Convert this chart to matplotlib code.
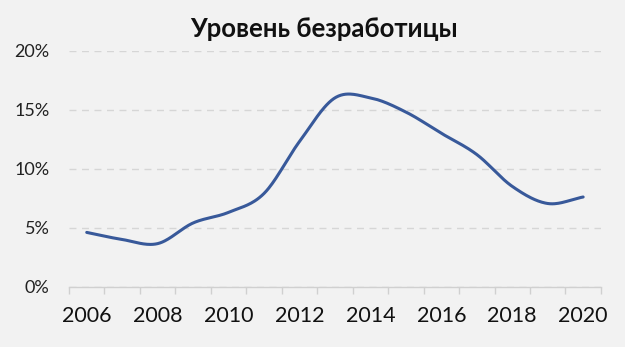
import numpy as np
import matplotlib.pyplot as plt
from matplotlib.ticker import FixedLocator, PercentFormatter

years = [2006, 2007, 2008, 2009, 2010, 2011, 2012, 2013, 2014, 2015, 2016, 2017, 2018, 2019, 2020]
unemployment = [4.6, 4.0, 3.65, 5.4, 6.3, 7.9, 12.3, 16.0, 16.0, 14.8, 13.0, 11.2, 8.5, 7.05, 7.6]
tick_years = [2006, 2008, 2010, 2012, 2014, 2016, 2018, 2020]
title = 'Уровень безработицы'


def smooth(x, y, n=30):
    # Catmull-Rom curve through the points, like Excel's smoothed line
    x = np.asarray(x, float)
    y = np.asarray(y, float)
    px = np.concatenate([[2 * x[0] - x[1]], x, [2 * x[-1] - x[-2]]])
    py = np.concatenate([[2 * y[0] - y[1]], y, [2 * y[-1] - y[-2]]])
    xs, ys = [], []
    t = np.linspace(0, 1, n, endpoint=False)
    for i in range(1, len(px) - 2):
        for p, out in ((px, xs), (py, ys)):
            p0, p1, p2, p3 = p[i - 1], p[i], p[i + 1], p[i + 2]
            out.extend(0.5 * (2 * p1 + (-p0 + p2) * t
                              + (2 * p0 - 5 * p1 + 4 * p2 - p3) * t ** 2
                              + (-p0 + 3 * p1 - 3 * p2 + p3) * t ** 3))
    xs.append(x[-1])
    ys.append(y[-1])
    return np.array(xs), np.array(ys)


plt.rcParams['font.family'] = ['Lato', 'DejaVu Sans']
bg = '#f2f2f2'

fig = plt.figure(figsize=(6.25, 3.47), dpi=100, facecolor=bg)
ax = fig.add_axes([0.1104, 0.1738, 0.851, 0.6802], facecolor=bg)

sx, sy = smooth(years, unemployment)
ax.plot(sx, sy, color='#38599a', lw=2.2, solid_capstyle='round', zorder=3)

ax.set_xlim(years[0] - 0.5, years[-1] + 0.5)
ax.set_ylim(0, 20)
ax.set_yticks([0, 5, 10, 15, 20])
ax.yaxis.set_major_formatter(PercentFormatter(decimals=0))
ax.set_xticks(tick_years)
ax.set_xticklabels([str(y) for y in tick_years])
ax.xaxis.set_minor_locator(FixedLocator([y - 0.5 for y in years] + [years[-1] + 0.5]))

ax.grid(axis='y', color='#d6d6d6', ls=(0, (5, 4)), lw=1)
for s in ['top', 'right', 'left']:
    ax.spines[s].set_visible(False)
ax.spines['bottom'].set_color('#d0d0d0')
ax.spines['bottom'].set_linewidth(1)

ax.tick_params(axis='y', length=0, pad=14, labelsize=13, labelcolor='#222222')
ax.tick_params(axis='x', which='major', length=0, pad=14, labelsize=15.5, labelcolor='#111111')
ax.tick_params(axis='x', which='minor', length=5, color='#d0d0d0', width=1)

fig.text(0.519, 0.916, title, ha='center', va='center', fontsize=18.5, fontweight='bold', color='#111111')

fig.savefig('out.png', dpi=100, facecolor=bg)
